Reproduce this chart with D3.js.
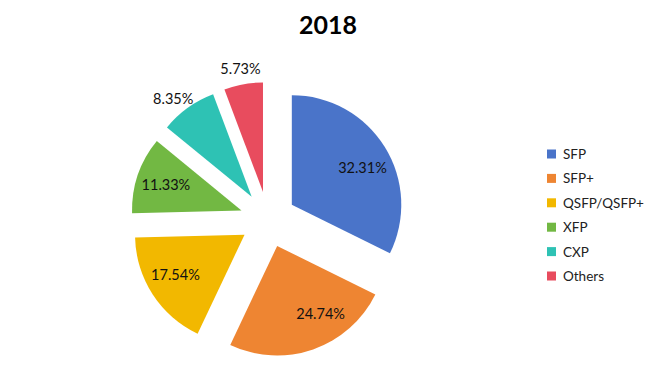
<!DOCTYPE html>
<html><head><meta charset="utf-8">
<script src="https://cdn.jsdelivr.net/npm/d3@7"></script>
<style>body{margin:0;background:#fff}svg{display:block}</style>
</head><body>
<svg id="c" width="656" height="392"></svg>
<script>
const title = "2018";
const categories = ["SFP", "SFP+", "QSFP/QSFP+", "XFP", "CXP", "Others"];
const values = [32.31, 24.74, 17.54, 11.33, 8.35, 5.73];
const colors = ["#4a74c9", "#ee8532", "#f2b800", "#72b843", "#2ec2b4", "#e84c5e"];

const W = 656, H = 392;
const cx = 268, cy = 219.5, R = 109.5, explode = 28;
const font = "Lato, 'Open Sans', sans-serif";
const labelAngleShift = [0.07, -0.24, 0.05, 0, -0.05, 0]; // best-fit tweaks (radians)
const svg = d3.select("#c");

svg.append("text").attr("x", 328).attr("y", 34).attr("text-anchor", "middle")
  .attr("font-family", font).attr("font-weight", "bold").attr("font-size", 25)
  .attr("fill", "#000").text(title);

const pie = d3.pie().sort(null).value(d => d)(values);
const arc = d3.arc().innerRadius(0).outerRadius(R);
const g = svg.append("g").attr("transform", `translate(${cx},${cy})`);

pie.forEach((p, i) => {
  const mid = (p.startAngle + p.endAngle) / 2;
  const ox = explode * Math.sin(mid), oy = -explode * Math.cos(mid);
  const sg = g.append("g").attr("transform", `translate(${ox},${oy})`);
  sg.append("path").attr("d", arc(p)).attr("fill", colors[i]);
  const inside = (p.endAngle - p.startAngle) > 0.6;
  const lr = inside ? R * 0.73 : R * 1.15;
  const la = mid + labelAngleShift[i];
  sg.append("text")
    .attr("x", lr * Math.sin(la)).attr("y", -lr * Math.cos(la))
    .attr("text-anchor", "middle").attr("dominant-baseline", "central")
    .attr("font-family", font).attr("font-size", 14.5).attr("fill", "#111")
    .text(values[i].toFixed(2) + "%");
});

const leg = svg.append("g");
categories.forEach((c, i) => {
  const y = 154 + i * 24.4;
  leg.append("rect").attr("x", 547).attr("y", y - 4.5).attr("width", 9).attr("height", 9).attr("fill", colors[i]);
  leg.append("text").attr("x", 563).attr("y", y).attr("dominant-baseline", "central")
    .attr("font-family", font).attr("font-size", 13.5).attr("fill", "#222").text(c);
});
</script>
</body></html>
